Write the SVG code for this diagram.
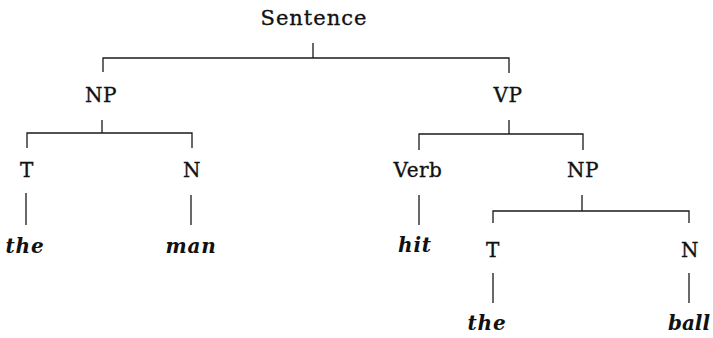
<svg xmlns="http://www.w3.org/2000/svg" width="713" height="338" viewBox="0 0 713 338">
<style>
.lbl{font-family:"DejaVu Serif","Liberation Serif",serif;font-size:20px;fill:#111;stroke:#111;stroke-width:0.35;text-anchor:middle;letter-spacing:0.5px}
.wd{font-family:"DejaVu Serif","Liberation Serif",serif;font-size:20px;font-style:italic;font-weight:bold;fill:#111;text-anchor:middle;letter-spacing:0.8px}
.ln{fill:none;stroke:#1a1a1a;stroke-width:1.3}
</style>
<rect width="713" height="338" fill="#fff"/>
<g id="connectors">
<path class="ln" d="M313,43V58M103,72V58H509V73"/>
<path class="ln" d="M102,120V133M27,148V133H192V148"/>
<path class="ln" d="M509,120V134M419,150V134H583V150"/>
<path class="ln" d="M26,193V225M191,195V225M419,195V225"/>
<path class="ln" d="M582,195V211M493,223V211H689V223"/>
<path class="ln" d="M493,273V303M689,273V303"/>
</g>
<g id="sentence"><text class="lbl" x="314" y="25" style="font-size:21px;letter-spacing:1px">Sentence</text></g>
<g id="np1"><text class="lbl" x="101" y="102">NP</text></g>
<g id="vp"><text class="lbl" x="508" y="102">VP</text></g>
<g id="t1"><text class="lbl" x="27" y="177">T</text></g>
<g id="n1"><text class="lbl" x="192" y="177">N</text></g>
<g id="verb"><text class="lbl" x="418" y="177">Verb</text></g>
<g id="np2"><text class="lbl" x="583" y="177">NP</text></g>
<g id="the1"><text class="wd" x="25" y="253">the</text></g>
<g id="man"><text class="wd" x="191" y="253">man</text></g>
<g id="hit"><text class="wd" x="415" y="252">hit</text></g>
<g id="t2"><text class="lbl" x="493" y="257">T</text></g>
<g id="n2"><text class="lbl" x="690" y="257">N</text></g>
<g id="the2"><text class="wd" x="487" y="330">the</text></g>
<g id="ball"><text class="wd" x="689" y="330" style="letter-spacing:0">ball</text></g>
</svg>
